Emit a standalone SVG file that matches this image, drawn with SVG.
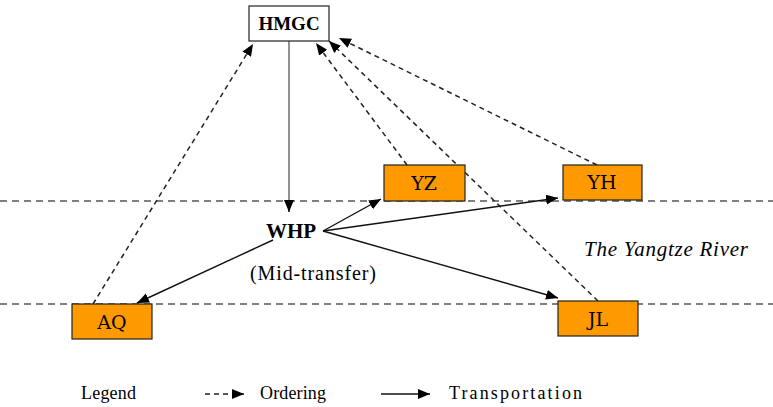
<svg xmlns="http://www.w3.org/2000/svg" width="773" height="407" viewBox="0 0 773 407" font-family="'Liberation Serif', 'Times New Roman', 'DejaVu Serif', serif">
<defs>
<marker id="ah" markerUnits="userSpaceOnUse" markerWidth="14" markerHeight="12" refX="12" refY="5" orient="auto">
<path d="M0,0 L12,5 L0,10 Z" fill="#000"/>
</marker>
<style>
.river{stroke:#808080;stroke-width:2;stroke-dasharray:7,5;fill:none}
.box{fill:#FF9900;stroke:#222;stroke-width:1.2}
.hm{fill:#fff;stroke:#222;stroke-width:1.2}
.ord{stroke:#222;stroke-width:1.5;stroke-dasharray:5,4;fill:none;marker-end:url(#ah)}
.tr{stroke:#111;stroke-width:1.4;fill:none;marker-end:url(#ah)}
.bl{font-family:'DejaVu Serif','Liberation Serif',serif;font-size:19px;text-anchor:middle}
text{fill:#000}
</style>
</defs>
<rect width="773" height="407" fill="#fff"/>
<g id="river">
<line class="river" x1="0" y1="201" x2="773" y2="201"/>
<line class="river" x1="0" y1="304" x2="773" y2="304"/>
<text x="584" y="256" font-size="21" font-style="italic" textLength="164" lengthAdjust="spacing">The Yangtze River</text>
</g>
<g id="connectors">
<line x1="289" y1="41" x2="289" y2="208" stroke="#777" stroke-width="1.6"/>
<line class="tr" x1="289" y1="200" x2="289" y2="212"/>
<line class="tr" x1="323" y1="231" x2="381" y2="199"/>
<line class="tr" x1="323" y1="231" x2="558" y2="198"/>
<line class="tr" x1="323" y1="231" x2="558" y2="298"/>
<line class="tr" x1="273" y1="240" x2="137" y2="303"/>
<line class="ord" x1="93" y1="304" x2="253" y2="44"/>
<line class="ord" x1="407" y1="165" x2="316" y2="43"/>
<line class="ord" x1="598" y1="301" x2="329" y2="41"/>
<line class="ord" x1="597" y1="165" x2="339" y2="38"/>
</g>
<g id="HMGC">
<rect class="hm" x="249" y="6" width="80" height="35"/>
<text x="289" y="30" font-size="19" font-weight="bold" text-anchor="middle">HMGC</text>
</g>
<g id="WHP">
<text x="291" y="238" font-size="21" font-weight="bold" text-anchor="middle">WHP</text>
<text x="250" y="280" font-size="20" textLength="126" lengthAdjust="spacing">(Mid-transfer)</text>
</g>
<g id="YZ">
<rect class="box" x="384" y="165" width="81" height="36"/>
<text class="bl" x="424" y="190">YZ</text>
</g>
<g id="YH">
<rect class="box" x="563" y="165" width="79" height="35"/>
<text class="bl" x="602" y="189">YH</text>
</g>
<g id="AQ">
<rect class="box" x="72" y="304" width="80" height="35"/>
<text class="bl" x="112" y="329">AQ</text>
</g>
<g id="JL">
<rect class="box" x="558" y="301" width="80" height="35"/>
<text class="bl" x="598" y="326">JL</text>
</g>
<g id="legend">
<text x="81" y="399" font-size="18" textLength="55" lengthAdjust="spacing">Legend</text>
<line class="ord" x1="205" y1="394" x2="244" y2="394"/>
<text x="260" y="399" font-size="18" textLength="66" lengthAdjust="spacing">Ordering</text>
<line class="tr" x1="381" y1="394" x2="430" y2="394"/>
<text x="449" y="399" font-size="18" textLength="133" lengthAdjust="spacing">Transportation</text>
</g>
</svg>
